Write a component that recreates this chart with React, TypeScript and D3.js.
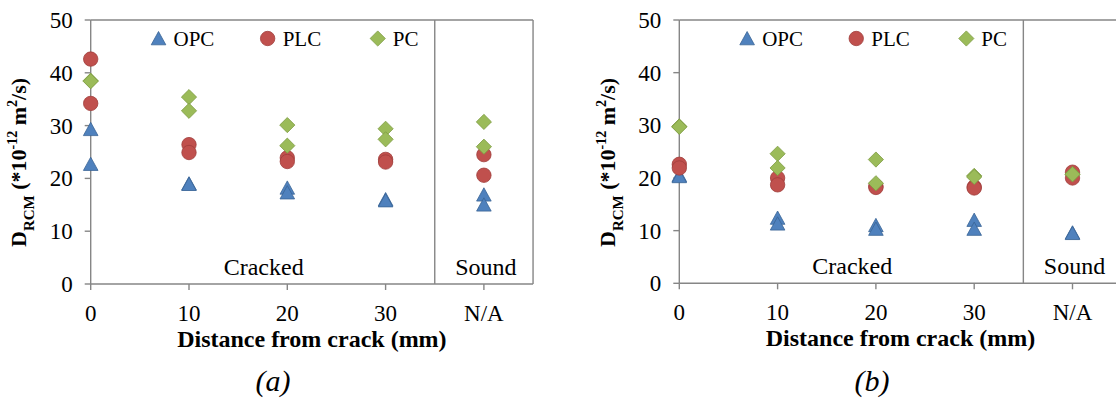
import React from "react";
import * as d3 from "d3";

const categories = ["0", "10", "20", "30", "N/A"];
const yTicks = [0, 10, 20, 30, 40, 50];
const seriesNames = ["OPC", "PLC", "PC"];

// panel (a): two specimens per category
const opcA = [[29.3, 22.7], [19.0, 18.9], [18.2, 17.3], [16.0, 15.8], [16.9, 15.0]];
const plcA = [[42.6, 34.2], [26.4, 24.9], [23.9, 23.2], [23.6, 23.1], [24.5, 20.6]];
const pcA = [[38.5, 38.4], [35.4, 32.8], [30.1, 26.2], [29.4, 27.4], [30.7, 26.0]];

// panel (b)
const opcB = [[20.5, 20.3], [12.4, 11.3], [11.0, 10.3], [12.0, 10.3], [9.6, 9.5]];
const plcB = [[22.6, 21.9], [20.0, 18.7], [18.4, 18.2], [18.3, 18.1], [21.1, 20.0]];
const pcB = [[29.8, 29.7], [24.6, 21.9], [23.5, 19.0], [20.4, 20.2], [20.75, 20.7]];

const FONT = "'Liberation Serif', 'Times New Roman', serif";
const GRID = "#868686";
const STYLES = [
  { fill: "#4F81BD", stroke: "#3A6596", shape: "triangle" },
  { fill: "#C0504D", stroke: "#A03E3B", shape: "circle" },
  { fill: "#9BBB59", stroke: "#7E9C43", shape: "diamond" },
];

function Marker({ x, y, k }: { x: number; y: number; k: number }) {
  const s = STYLES[k];
  if (s.shape === "circle") {
    return <circle cx={x} cy={y} r={7.2} fill={s.fill} stroke={s.stroke} strokeWidth={0.8} />;
  }
  const p = d3.path();
  if (s.shape === "triangle") {
    p.moveTo(x, y - 7);
    p.lineTo(x + 7.3, y + 6.3);
    p.lineTo(x - 7.3, y + 6.3);
    p.closePath();
  } else {
    p.moveTo(x, y - 7.6);
    p.lineTo(x + 7.6, y);
    p.lineTo(x, y + 7.6);
    p.lineTo(x - 7.6, y);
    p.closePath();
  }
  return <path d={p.toString()} fill={s.fill} stroke={s.stroke} strokeWidth={0.8} />;
}

function Panel({
  x0, y0, yTop, step, series, tag, tagX,
}: {
  x0: number; y0: number; yTop: number; step: number;
  series: number[][][]; tag: string; tagX: number;
}) {
  const x = d3.scaleLinear().domain([0, 4.5]).range([x0, x0 + 4.5 * step]);
  const y = d3.scaleLinear().domain([0, 50]).range([y0, yTop]);
  const xr = x(4.5);
  const cx = (x0 + xr) / 2;
  const legendPos = [0.69, 1.8, 2.92];
  return (
    <g style={{ fontFamily: FONT }} fill="#000">
      {/* frame */}
      <line x1={x0} x2={xr} y1={y(50)} y2={y(50)} stroke={GRID} strokeWidth={1.4} />
      <line x1={xr} x2={xr} y1={y(50)} y2={y(0)} stroke={GRID} strokeWidth={1.4} />
      <line x1={x(3.5)} x2={x(3.5)} y1={y(50)} y2={y(0)} stroke={GRID} strokeWidth={1.4} />
      <line x1={x0} x2={x0} y1={y(50)} y2={y(0)} stroke={GRID} strokeWidth={1.4} />
      <line x1={x0} x2={xr} y1={y(0)} y2={y(0)} stroke={GRID} strokeWidth={1.4} />
      {yTicks.map((t) => (
        <g key={"y" + t}>
          <line x1={x0 - 6} x2={x0} y1={y(t)} y2={y(t)} stroke={GRID} strokeWidth={1.4} />
          <text x={x0 - 18} y={y(t)} dy="0.35em" textAnchor="end" fontSize={23}>{t}</text>
        </g>
      ))}
      {categories.map((c, i) => (
        <g key={"x" + c}>
          <line x1={x(i)} x2={x(i)} y1={y(0)} y2={y(0) + 6} stroke={GRID} strokeWidth={1.4} />
          <text x={x(i)} y={y(0) + 37} textAnchor="middle" fontSize={23}>{c}</text>
        </g>
      ))}
      <text x={x(1.76)} y={y(0) - 9} textAnchor="middle" fontSize={24}>Cracked</text>
      <text x={x(4.02)} y={y(0) - 9} textAnchor="middle" fontSize={24}>Sound</text>
      {/* legend */}
      {seriesNames.map((n, k) => (
        <g key={n}>
          <Marker x={x(legendPos[k])} y={38.5} k={k} />
          <text x={x(legendPos[k]) + 15} y={38.5} dy="0.35em" fontSize={21}>{n}</text>
        </g>
      ))}
      {/* data */}
      {series.map((ser, k) =>
        ser.map((vals, i) =>
          vals.map((v, j) => <Marker key={`${k}-${i}-${j}`} x={x(i)} y={y(v)} k={k} />)
        )
      )}
      {/* axis titles */}
      <text x={cx} y={y(0) + 62.5} textAnchor="middle" fontSize={24} fontWeight="bold">
        Distance from crack (mm)
      </text>
      <text
        transform={`translate(${x0 - 64.7},247) rotate(-90)`}
        textAnchor="start"
        fontWeight="bold"
        fontSize={22}
      >
        <tspan>D</tspan>
        <tspan fontSize={15} dy={8}>RCM</tspan>
        <tspan dy={-8}> (*10</tspan>
        <tspan fontSize={14} dy={-9}>-12</tspan>
        <tspan dy={9}> m</tspan>
        <tspan fontSize={14} dy={-9}>2</tspan>
        <tspan dy={9}>/s)</tspan>
      </text>
      <text x={tagX} y={391} textAnchor="middle" fontSize={30} fontStyle="italic">{tag}</text>
    </g>
  );
}

export default function App() {
  return (
    <svg
      width={1116}
      height={400}
      style={{ position: "absolute", left: 0, top: 0, background: "#fff" }}
    >
      <rect width={1116} height={400} fill="#fff" />
      <Panel x0={90.7} y0={284} yTop={20} step={98.3} series={[opcA, plcA, pcA]} tag="(a)" tagX={273} />
      <Panel x0={679.3} y0={283.3} yTop={20} step={98.3} series={[opcB, plcB, pcB]} tag="(b)" tagX={872} />
    </svg>
  );
}
